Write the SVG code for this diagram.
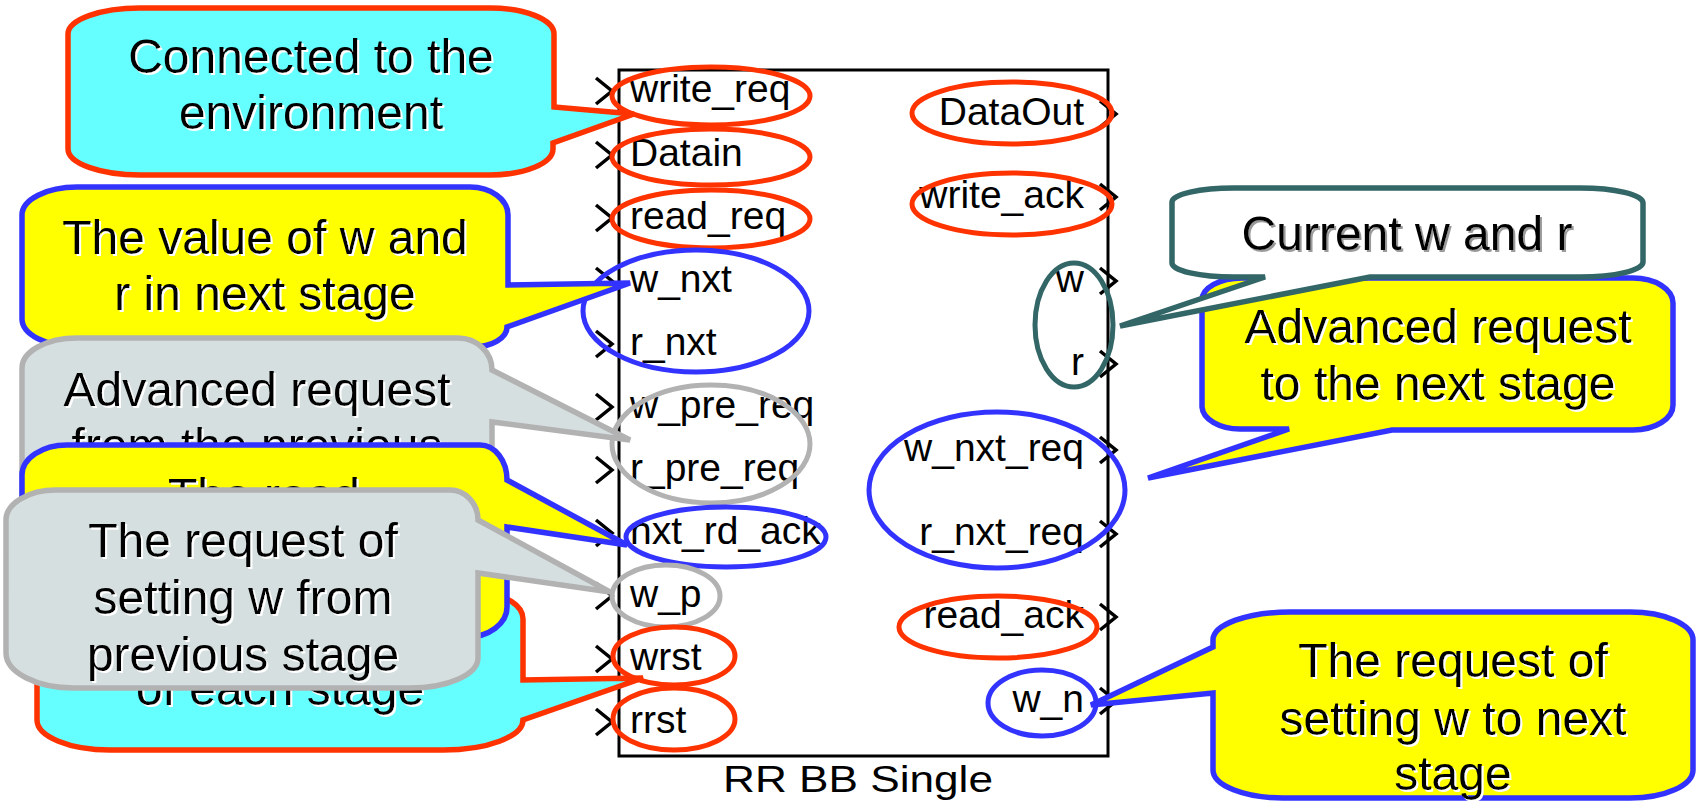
<svg xmlns="http://www.w3.org/2000/svg" xmlns:xlink="http://www.w3.org/1999/xlink" width="1707" height="804" viewBox="0 0 1707 804">
  <style>
    .port { font-family: "Liberation Sans", Arial, sans-serif; font-size: 39px; fill: #000; }
    .end { text-anchor: end; }
    .title { font-family: "Liberation Sans", Arial, sans-serif; font-size: 37px; fill: #000; }
    .note { font-family: "Liberation Sans", Arial, sans-serif; font-size: 48px; fill: #000; text-anchor: middle; filter: url(#shw); }
    .note-w { font-family: "Liberation Sans", Arial, sans-serif; font-size: 48px; fill: #000; text-anchor: middle; filter: url(#shg); }
    .chev { fill: none; stroke: #000; stroke-width: 3.5; }
    .mark { fill: none; stroke-width: 5; }
    .red { stroke: #FF3300; }
    .blue { stroke: #3333FF; }
    .grey { stroke: #B2B2B2; }
    .teal { stroke: #336666; }
    .co { stroke-width: 5.5; stroke-linejoin: miter; }
    .cyan { fill: #66FFFF; stroke: #FF3300; }
    .yel { fill: #FFFF00; stroke: #3333FF; }
    .gry { fill: #D6DFE0; stroke: #B2B2B2; }
    .wht { fill: #FFFFFF; stroke: #336666; }
  </style>
  <defs>
    <filter id="shw" x="-5%" y="-20%" width="110%" height="140%">
      <feDropShadow dx="2" dy="2" stdDeviation="0.4" flood-color="#FFFFFF" flood-opacity="1"/>
    </filter>
    <filter id="shg" x="-5%" y="-20%" width="110%" height="140%">
      <feDropShadow dx="2" dy="2" stdDeviation="0.6" flood-color="#9A9A9A" flood-opacity="1"/>
    </filter>
    <path id="chev" d="M0,-13 L16,0 L0,13"/>
  </defs>

  <rect width="1707" height="804" fill="#FFFFFF"/>

  <!-- the RR BB Single block with its ports -->
  <g id="block">
    <rect x="619" y="70" width="489" height="686" fill="#FFFFFF" stroke="#000" stroke-width="3"/>
    <text class="title" x="723" y="792" textLength="270" lengthAdjust="spacingAndGlyphs">RR BB Single</text>
    <g class="chev">
      <use xlink:href="#chev" x="596" y="91"/>
      <use xlink:href="#chev" x="596" y="155"/>
      <use xlink:href="#chev" x="596" y="218"/>
      <use xlink:href="#chev" x="596" y="281"/>
      <use xlink:href="#chev" x="596" y="344"/>
      <use xlink:href="#chev" x="596" y="407"/>
      <use xlink:href="#chev" x="596" y="470"/>
      <use xlink:href="#chev" x="596" y="533"/>
      <use xlink:href="#chev" x="596" y="596"/>
      <use xlink:href="#chev" x="596" y="659"/>
      <use xlink:href="#chev" x="596" y="722"/>
      <use xlink:href="#chev" x="1100" y="114"/>
      <use xlink:href="#chev" x="1100" y="197"/>
      <use xlink:href="#chev" x="1100" y="281"/>
      <use xlink:href="#chev" x="1100" y="364"/>
      <use xlink:href="#chev" x="1100" y="450"/>
      <use xlink:href="#chev" x="1100" y="534"/>
      <use xlink:href="#chev" x="1100" y="617"/>
      <use xlink:href="#chev" x="1100" y="701"/>
    </g>
    <g class="port">
      <text x="630" y="102">write_req</text>
      <text x="630" y="166">Datain</text>
      <text x="630" y="229">read_req</text>
      <text x="630" y="292">w_nxt</text>
      <text x="630" y="355">r_nxt</text>
      <text x="630" y="418">w_pre_req</text>
      <text x="630" y="481">r_pre_req</text>
      <text x="630" y="544">nxt_rd_ack</text>
      <text x="630" y="607">w_p</text>
      <text x="630" y="670">wrst</text>
      <text x="630" y="733">rrst</text>
      <text class="end" x="1084" y="125">DataOut</text>
      <text class="end" x="1084" y="208">write_ack</text>
      <text class="end" x="1084" y="292">w</text>
      <text class="end" x="1084" y="375">r</text>
      <text class="end" x="1084" y="461">w_nxt_req</text>
      <text class="end" x="1084" y="545">r_nxt_req</text>
      <text class="end" x="1084" y="628">read_ack</text>
      <text class="end" x="1084" y="712">w_n</text>
    </g>
  </g>

  <!-- rings around port groups -->
  <g id="marks" class="mark">
    <ellipse class="red" cx="711" cy="96" rx="99" ry="29"/>
    <ellipse class="red" cx="711" cy="157" rx="99" ry="28"/>
    <ellipse class="red" cx="711" cy="219" rx="99" ry="29"/>
    <ellipse class="blue" cx="696" cy="311" rx="113" ry="61"/>
    <ellipse class="grey" cx="711" cy="444" rx="99" ry="59"/>
    <ellipse class="blue" cx="726" cy="537" rx="100" ry="30"/>
    <ellipse class="grey" cx="666" cy="596" rx="54" ry="31"/>
    <ellipse class="red" cx="674" cy="656" rx="61" ry="29"/>
    <ellipse class="red" cx="674" cy="719" rx="61" ry="31"/>
    <ellipse class="red" cx="1012" cy="113" rx="100" ry="31"/>
    <ellipse class="red" cx="1012" cy="204" rx="100" ry="31"/>
    <ellipse class="teal" cx="1074" cy="325" rx="39" ry="62"/>
    <ellipse class="blue" cx="997" cy="490" rx="128" ry="78"/>
    <ellipse class="red" cx="998" cy="627" rx="99" ry="31"/>
    <ellipse class="blue" cx="1042" cy="703" rx="54" ry="33"/>
  </g>

  <!-- callouts, back to front -->
  <g id="callouts">
    <g id="env">
      <path class="co cyan" d="M 140,8 H 490 A 64 26 0 0 1 554,34 V 107 L 634,114 L 553,143 V 149 A 64 26 0 0 1 490,175 H 140 A 72 26 0 0 1 68,149 V 34 A 72 26 0 0 1 140,8 Z"/>
      <text class="note" x="311" y="73">Connected to the</text>
      <text class="note" x="311" y="129">environment</text>
    </g>
    <g id="wr-next">
      <path class="co yel" d="M 77,187 H 470 A 38 28 0 0 1 508,215 V 285 L 630,283 L 507,327 A 34 20 0 0 1 473,347 H 77 A 55 28 0 0 1 22,319 V 215 A 55 28 0 0 1 77,187 Z"/>
      <text class="note" x="265" y="254">The value of w and</text>
      <text class="note" x="265" y="310">r in next stage</text>
    </g>
    <g id="adv-prev">
      <path class="co gry" d="M 77,338 H 458 A 34 32 0 0 1 492,370 L 630,440 L 492,422 V 532 A 55 28 0 0 1 437,560 H 77 A 55 28 0 0 1 22,532 V 368 A 55 30 0 0 1 77,338 Z"/>
      <text class="note" x="257" y="406">Advanced request</text>
      <text class="note" x="257" y="462">from the previous</text>
    </g>
    <g id="reset">
      <path class="co cyan" d="M 95,594 H 483 A 40 25 0 0 1 523,619 V 680 L 643,678 L 523,720 A 80 30 0 0 1 443,750 H 110 A 73 30 0 0 1 37,720 V 624 A 58 30 0 0 1 95,594 Z"/>
      <text class="note" x="280" y="705">of each stage</text>
    </g>
    <g id="read">
      <path class="co yel" d="M 67,445 H 480 A 27 35 0 0 1 507,480 L 627,545 L 507,527 V 607 A 40 30 0 0 1 467,637 H 67 A 45 30 0 0 1 22,607 V 475 A 45 30 0 0 1 67,445 Z"/>
      <text class="note" x="264" y="512">The read</text>
    </g>
    <g id="w-prev">
      <path class="co gry" d="M 56,490 H 450 A 28 30 0 0 1 478,520 L 610,592 L 478,573 V 658 A 68 30 0 0 1 410,688 H 74 A 68 35 0 0 1 6,653 V 520 A 50 30 0 0 1 56,490 Z"/>
      <text class="note" x="243" y="557">The request of</text>
      <text class="note" x="243" y="614">setting w from</text>
      <text class="note" x="243" y="671">previous stage</text>
    </g>
    <g id="adv-next">
      <path class="co yel" d="M 1242,278 H 1633 A 40 25 0 0 1 1673,303 V 405 A 40 25 0 0 1 1633,430 H 1392 L 1148,478 L 1289,429 H 1240 A 38 23 0 0 1 1202,407 V 300 A 40 22 0 0 1 1242,278 Z"/>
      <text class="note" x="1438" y="343">Advanced request</text>
      <text class="note" x="1438" y="400">to the next stage</text>
    </g>
    <g id="current">
      <path class="co wht" d="M 1234,188 H 1580 A 63 15 0 0 1 1643,203 V 262 A 63 15 0 0 1 1580,277 H 1370 L 1120,326 L 1265,277 H 1234 A 62 14 0 0 1 1172,263 V 202 A 62 14 0 0 1 1234,188 Z"/>
      <text class="note-w" x="1407" y="250">Current w and r</text>
    </g>
    <g id="w-next">
      <path class="co yel" d="M 1290,612 H 1630 A 63 28 0 0 1 1693,640 V 770 A 63 28 0 0 1 1630,798 H 1283 A 70 28 0 0 1 1213,770 V 693 L 1091,705 L 1213,647 V 640 A 77 28 0 0 1 1290,612 Z"/>
      <text class="note" x="1453" y="677">The request of</text>
      <text class="note" x="1453" y="735">setting w to next</text>
      <text class="note" x="1453" y="790">stage</text>
    </g>
  </g>
</svg>
